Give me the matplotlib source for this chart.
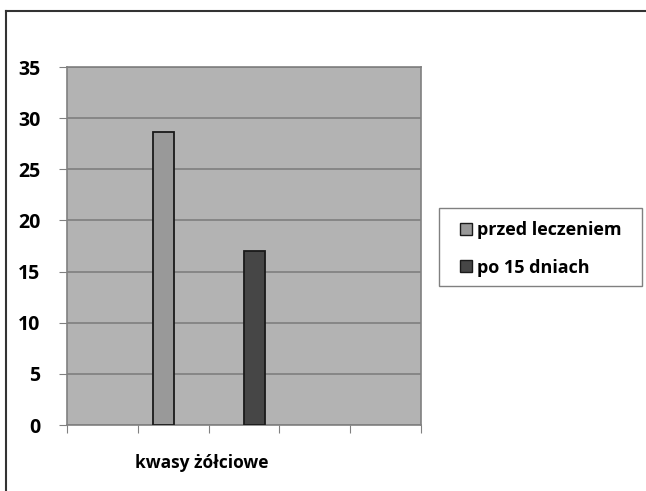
import numpy as np
import matplotlib
matplotlib.use('Agg')
import matplotlib.pyplot as plt
from matplotlib.lines import Line2D
from matplotlib.patches import Patch, Rectangle

# === Data ===
category = "kwasy żółciowe"
series_names = ["przed leczeniem", "po 15 dniach"]
series_values = [28.6, 17.0]
series_colors = ["#999999", "#464646"]
y_ticks = [0, 5, 10, 15, 20, 25, 30, 35]

plt.rcParams['font.family'] = ['Open Sans', 'DejaVu Sans']
plt.rcParams['font.weight'] = 'bold'

fig = plt.figure(figsize=(6.46, 4.91), dpi=100)
ax = fig.add_axes([0.1037, 0.1344, 0.548, 0.7291])
ax.set_facecolor("#b3b3b3")

# bar positions inside the 0..5 axis span
bar_x = [1.363, 2.648]
ax.bar(bar_x, series_values, width=0.297, color=series_colors,
       edgecolor="#1a1a1a", linewidth=1.3, zorder=3)

ax.set_ylim(0, 35)
ax.set_xlim(0, 5)
ax.set_yticks(y_ticks)
ax.set_xticks(np.arange(0, 6))
ax.set_xticklabels([])
ax.yaxis.grid(True, color="#7f7f7f", linewidth=1.2, zorder=0)
ax.set_axisbelow(True)

for s in ax.spines.values():
    s.set_color("#808080")
    s.set_linewidth(1.2)
ax.tick_params(axis='y', length=6, color="#808080", labelsize=14, pad=13)
ax.tick_params(axis='x', length=6, color="#808080")

fig.text(0.312, 0.058, category, ha='center', va='center', fontsize=12.5, fontweight='bold')

# legend box drawn separately so padding matches
fig.add_artist(Rectangle((0.6796, 0.4175), 0.3142, 0.1589, transform=fig.transFigure,
                         facecolor='white', edgecolor="#808080", linewidth=1.0))
handles = [Patch(facecolor=c, edgecolor="#1a1a1a", label=n) for n, c in zip(series_names, series_colors)]
leg = fig.legend(handles=handles, loc='upper left', bbox_to_anchor=(0.712, 0.550),
                 frameon=False, handlelength=0.65,
                 handleheight=0.65, handletextpad=0.3, labelspacing=1.1,
                 borderpad=0.0, borderaxespad=0.0,
                 prop={'weight': 'bold', 'size': 13})

# outer frame (left and top edge visible)
fig.add_artist(Line2D([0.0093, 0.0093], [0, 0.9776], color="#333333", linewidth=1.5, transform=fig.transFigure))
fig.add_artist(Line2D([0.0093, 1.0], [0.9776, 0.9776], color="#333333", linewidth=1.5, transform=fig.transFigure))

fig.savefig("out.png", dpi=100)
